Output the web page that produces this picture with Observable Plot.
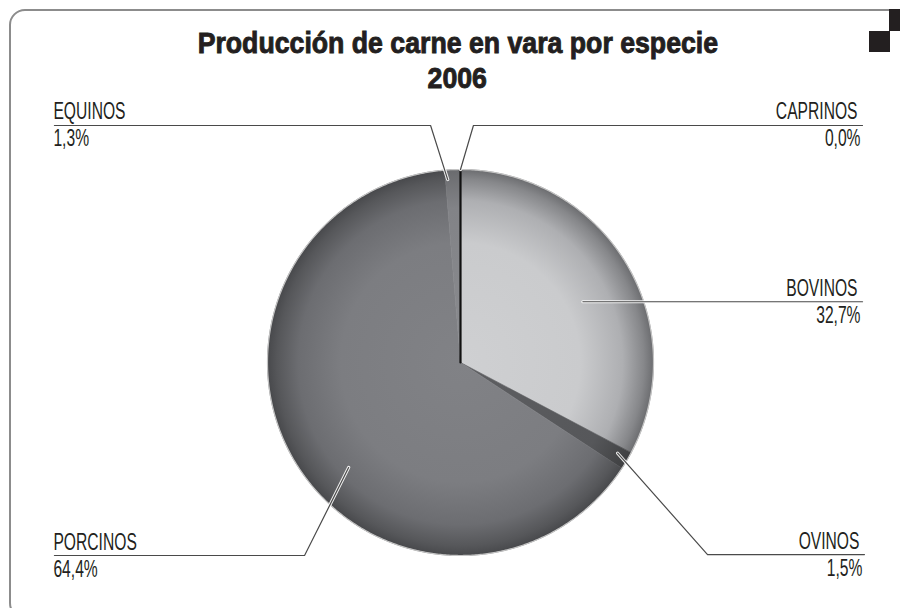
<!DOCTYPE html>
<html>
<head>
<meta charset="utf-8">
<script src="https://cdn.jsdelivr.net/npm/d3@7"></script>
<script src="https://cdn.jsdelivr.net/npm/@observablehq/plot@0.6"></script>
<style>
html,body{margin:0;padding:0;background:#fff;}
body{width:900px;height:608px;position:relative;overflow:hidden;}
#chart{position:absolute;left:0;top:0;z-index:1;}
#frame{position:absolute;left:9px;top:9px;width:930px;height:610px;border:2px solid #8c8c8c;border-radius:16px;box-sizing:border-box;z-index:2;pointer-events:none;}
#sq1{position:absolute;left:889px;top:9px;width:11px;height:22px;background:#231f20;z-index:3;}
#sq2{position:absolute;left:869px;top:31px;width:21px;height:21px;background:#231f20;z-index:3;}
#title{position:absolute;left:15px;top:26px;width:885px;text-align:center;font:bold 29px/35px "Liberation Sans",Arial,sans-serif;color:#231f20;-webkit-text-stroke:0.9px #231f20;z-index:3;}
#title span{display:inline-block;transform:scaleX(0.92);transform-origin:50% 50%;}
</style>
</head>
<body>
<div id="chart"></div>
<div id="frame"></div>
<div id="sq1"></div>
<div id="sq2"></div>
<div id="title"><span>Producción de carne en vara por especie</span><br><span>2006</span></div>
<script>
// ---- data ----
const categories = ["CAPRINOS", "BOVINOS", "OVINOS", "PORCINOS", "EQUINOS"];
const values = [0.0, 32.7, 1.5, 64.4, 1.3];
const pctLabels = values.map(v => v.toFixed(1).replace(".", ",") + "%");

// ---- styles ----
const gradients = {
  CAPRINOS: [[0, "#111111"], [1, "#111111"]],
  BOVINOS: [[0, "#cfd0d2"], [0.62, "#cacbcd"], [0.84, "#aeafb2"], [0.95, "#86878a"], [1, "#6c6d70"]],
  OVINOS: [[0, "#5e5f62"], [0.8, "#56575a"], [1, "#3f4042"]],
  PORCINOS: [[0, "#818286"], [0.62, "#7c7d81"], [0.84, "#6c6d71"], [0.95, "#56575a"], [1, "#48494c"]],
  EQUINOS: [[0, "#8a8b8f"], [0.8, "#828387"], [1, "#6a6b6e"]]
};

// ---- layout (pie units: radius = 1, centre = 0,0) ----
const R = 193, CX = 460, CY = 362, W = 900, H = 608;
const leaderLayout = [
  {cat: "CAPRINOS", angle: 0,     r: 1.0,   elbow: [0.067, 1.228],  end: 2.083,  side: "right"},
  {cat: "BOVINOS",  angle: 63.6,  r: 0.708, elbow: null,            end: 2.083,  side: "right"},
  {cat: "OVINOS",   angle: 120,   r: 0.94,  elbow: [1.280, -0.995], end: 2.093,  side: "right"},
  {cat: "PORCINOS", angle: 226.8, r: 0.795, elbow: [-0.808, -1.0],  end: -2.104, side: "left"},
  {cat: "EQUINOS",  angle: 356,   r: 0.95,  elbow: [-0.155, 1.228], end: -2.104, side: "left"}
];

// ---- geometry from data ----
const arcs = d3.pie().sort(null).value(d => d)(values);
const slices = [];
const zeroLines = [];
arcs.forEach((a, i) => {
  const cat = categories[i];
  const span = a.endAngle - a.startAngle;
  if (span <= 0) {
    zeroLines.push({cat, x: 0, y: 0}, {cat, x: Math.sin(a.startAngle), y: Math.cos(a.startAngle)});
    return;
  }
  const pts = [{cat, x: 0, y: 0}];
  const n = Math.max(2, Math.ceil(span / (Math.PI / 360)));
  for (let k = 0; k <= n; k++) {
    const t = a.startAngle + span * k / n;
    pts.push({cat, x: Math.sin(t), y: Math.cos(t)});
  }
  pts.push({cat, x: 0, y: 0});
  slices.push({cat, pts});
});
const circle = d3.range(0, 721).map(k => ({x: Math.sin(k * Math.PI / 360), y: Math.cos(k * Math.PI / 360)}));

const leaders = [];
const rows = [];
leaderLayout.forEach(L => {
  const i = categories.indexOf(L.cat);
  const t = L.angle * Math.PI / 180;
  const sx = L.r * Math.sin(t), sy = L.r * Math.cos(t);
  leaders.push({cat: L.cat, x: sx, y: sy});
  let rowY = sy;
  if (L.elbow) { leaders.push({cat: L.cat, x: L.elbow[0], y: L.elbow[1]}); rowY = L.elbow[1]; }
  leaders.push({cat: L.cat, x: L.end, y: rowY});
  rows.push({cat: L.cat, name: categories[i], pct: pctLabels[i], x: L.end, y: rowY, side: L.side});
});

const textStyle = {fontSize: 23, fontFamily: "Liberation Sans, Arial, sans-serif", fill: "#231f20", lineAnchor: "bottom"};
const right = rows.filter(d => d.side === "right");
const left = rows.filter(d => d.side === "left");

const marks = [];
slices.forEach(s => {
  marks.push(Plot.line(s.pts, {x: "x", y: "y", fill: `url(#g-${s.cat})`, stroke: `url(#g-${s.cat})`, strokeWidth: 0.6}));
});
marks.push(Plot.line(circle, {x: "x", y: "y", stroke: "#c4c4c4", strokeWidth: 1.2}));
marks.push(Plot.line(zeroLines, {x: "x", y: "y", z: "cat", stroke: "#111111", strokeWidth: 2.2}));
marks.push(Plot.line(leaders, {x: "x", y: "y", z: "cat", stroke: "#ffffff", strokeWidth: 3.2, strokeOpacity: 0.9}));
marks.push(Plot.line(leaders, {x: "x", y: "y", z: "cat", stroke: "#4a4a4a", strokeWidth: 1.2}));
marks.push(Plot.text(right, {x: "x", y: "y", text: "name", textAnchor: "end", dx: -5, dy: -6, ...textStyle}));
marks.push(Plot.text(right, {x: "x", y: "y", text: "pct", textAnchor: "end", dx: -2, dy: 21, ...textStyle}));
marks.push(Plot.text(left, {x: "x", y: "y", text: "name", textAnchor: "start", dx: -1, dy: -6, ...textStyle}));
marks.push(Plot.text(left, {x: "x", y: "y", text: "pct", textAnchor: "start", dx: -1, dy: 21, ...textStyle}));

const chart = Plot.plot({
  width: W,
  height: H,
  margin: 0,
  x: {domain: [-CX / R, (W - CX) / R], axis: null},
  y: {domain: [-(H - CY) / R, CY / R], axis: null},
  style: {background: "transparent", overflow: "visible"},
  marks
});
document.getElementById("chart").appendChild(chart);

// gradients in user space, positioned through the plot's own scales
const svg = d3.select(chart.tagName.toLowerCase() === "svg" ? chart : chart.querySelector("svg"));
const xs = chart.scale("x"), ys = chart.scale("y");
const gcx = xs.apply(0), gcy = ys.apply(0), gr = xs.apply(1) - xs.apply(0);
const defs = svg.insert("defs", ":first-child");
Object.entries(gradients).forEach(([cat, stops]) => {
  const g = defs.append("radialGradient").attr("id", `g-${cat}`)
    .attr("gradientUnits", "userSpaceOnUse")
    .attr("cx", gcx).attr("cy", gcy).attr("r", gr);
  stops.forEach(([o, c]) => g.append("stop").attr("offset", o).attr("stop-color", c));
});

// condensed labels
const S = 0.68;
svg.selectAll("text").each(function () {
  const tr = this.getAttribute("transform") || "";
  const m = /translate\(\s*([-\d.e]+)[,\s]+([-\d.e]+)\s*\)/.exec(tr);
  const x = m ? +m[1] : +(this.getAttribute("x") || 0);
  const y = m ? +m[2] : +(this.getAttribute("y") || 0);
  this.removeAttribute("x"); this.removeAttribute("y");
  this.setAttribute("transform", `translate(${x},${y}) scale(${S},1)`);
});
</script>
</body>
</html>
